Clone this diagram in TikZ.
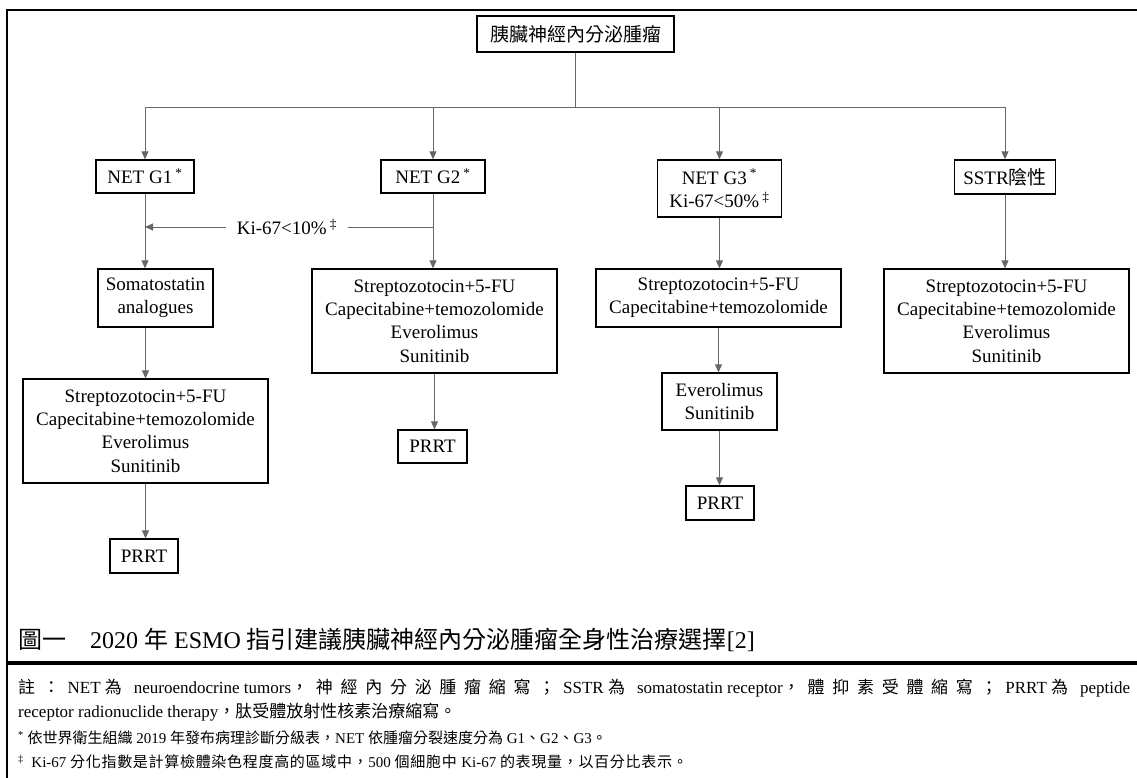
\documentclass[tikz,border=0pt]{standalone}
\usepackage{fontspec}
\setmainfont{Liberation Serif}
\newfontfamily\cjk{Noto Sans CJK TC}
\usetikzlibrary{arrows.meta}
\newcommand\zh[1]{{\cjk #1}}
\makeatletter
\newcommand\zhs[1]{{\cjk\@tfor\zhch:=#1\do{\zhch\hskip 0pt plus 1fil}}}
\newcommand\zhw[1]{{\cjk\@tfor\zhch:=#1\do{\zhch\kern 0.7pt}}}
\makeatother

\begin{document}
\begin{tikzpicture}[x=1pt, y=-1pt,
    box/.style={draw=black, line width=1.3pt, align=center, inner sep=0pt,
        font=\fontsize{19}{23.3}\selectfont},
    link/.style={draw=black!60, line width=0.9pt},
    arrow/.style={link, -{Triangle[length=8pt,width=7pt]}},
    note/.style={anchor=west, inner sep=0pt, font=\fontsize{15}{18}\selectfont}]
    \useasboundingbox (0,0) rectangle (1137,778);

    % Frame
    \draw[line width=2.8pt] (1137,10) -- (7,10) -- (7,778);
    \draw[line width=3.2pt] (7,663) -- (1137,663);

    % Root
    \node[box, minimum width=197, minimum height=36] (root) at (575.5,34) {\zh{胰臟神經內分泌腫瘤}};
    \coordinate (bus) at (575.5,107);

    % Row 2: grades
    \node[box, minimum width=98, minimum height=33] (g1) at (145,176.5) {NET G1\,\textsuperscript{*}};
    \node[box, minimum width=104, minimum height=33] (g2) at (433,176.5) {NET G2\,\textsuperscript{*}};
    \node[box, minimum width=124, minimum height=57] (g3) at (719.5,188.5) {NET G3\,\textsuperscript{*}\\Ki-67<50\%\,\textsuperscript{‡}};
    \node[box, minimum width=101, minimum height=34] (sstr) at (1005,177) {SSTR\zh{陰性}};

    % Row 3: first-line
    \node[box, minimum width=115, minimum height=58] (soma) at (155.5,298) {Somatostatin\\analogues};
    \node[box, minimum width=245, minimum height=104] (list2) at (434.5,321)
        {Streptozotocin+5-FU\\Capecitabine+temozolomide\\Everolimus\\Sunitinib};
    \node[box, minimum width=245, minimum height=58] (list3) at (718.5,298)
        {Streptozotocin+5-FU\\Capecitabine+temozolomide};
    \node[box, minimum width=245, minimum height=104] (list4) at (1006.5,321)
        {Streptozotocin+5-FU\\Capecitabine+temozolomide\\Everolimus\\Sunitinib};

    % Row 4 and below
    \node[box, minimum width=245, minimum height=104] (list1) at (145.5,431)
        {Streptozotocin+5-FU\\Capecitabine+temozolomide\\Everolimus\\Sunitinib};
    \node[box, minimum width=115, minimum height=57] (evsu) at (719.5,401.5) {Everolimus\\Sunitinib};
    \node[box, minimum width=68, minimum height=34] (prrt1) at (144,556) {PRRT};
    \node[box, minimum width=69, minimum height=33] (prrt2) at (432.5,446.5) {PRRT};
    \node[box, minimum width=68, minimum height=34] (prrt3) at (720,503) {PRRT};

    % Connectors
    \draw[link] (root.south) -- (bus);
    \draw[link] (g1.north |- bus) -- (sstr.north |- bus);
    \foreach \n in {g1,g2,g3,sstr}
        \draw[arrow] (\n.north |- bus) -- (\n.north);
    \draw[arrow] (g1.south) -- (g1.south |- soma.north);
    \draw[arrow] (g2.south) -- (g2.south |- list2.north);
    \draw[arrow] (g3.south) -- (g3.south |- list3.north);
    \draw[arrow] (sstr.south) -- (sstr.south |- list4.north);
    \draw[arrow] (list1.north |- soma.south) -- (list1.north);
    \draw[arrow] (list1.south) -- (list1.south |- prrt1.north);
    \draw[arrow] (list2.south) -- (list2.south |- prrt2.north);
    \draw[arrow] (list3.south) -- (list3.south |- evsu.north);
    \draw[arrow] (evsu.south) -- (evsu.south |- prrt3.north);

    % Ki-67 shortcut from G2 to G1
    \node[fill=white, inner sep=0pt, minimum width=122, minimum height=36,
        font=\fontsize{19}{23.3}\selectfont] (ki) at (287,227) {Ki-67<10\%\,\textsuperscript{‡}};
    \draw[link] (ki.east) -- (g2.south |- ki);
    \draw[arrow] (ki.west) -- (g1.south |- ki);

    % Caption and notes
    \node[anchor=west, inner sep=0pt, font=\fontsize{24}{28}\selectfont] (caption) at (18,640)
        {\zh{圖一}\quad 2020 \zh{年} ESMO \zh{指引建議胰臟神經內分泌腫瘤全身性治療選擇}[2]};
    \node[note, font=\fontsize{17}{19}\selectfont] (n1) at (18,688) {\makebox[1112pt][s]{\zhs{註：}NET \zhs{為} neuroendocrine tumors\zhs{，神經內分泌腫瘤縮寫；}SSTR \zhs{為} somatostatin receptor\zhs{，體抑素受體縮寫；}PRRT \zhs{為} peptide}};
    \node[note, font=\fontsize{17}{19}\selectfont] (n2) at (18,712) {receptor radionuclide therapy\zh{，肽受體放射性核素治療縮寫。}};
    \node[note] (n3) at (18,738) {\textsuperscript{*}\ \zh{依世界衛生組織} 2019 \zh{年發布病理診斷分級表，}NET \zh{依腫瘤分裂速度分為} G1\zh{、}G2\zh{、}G3\zh{。}};
    \node[note] (n4) at (18,762) {\textsuperscript{‡}\ \ Ki-67 \zhw{分化指數是計算檢體染色程度高的區域中，}500 \zhw{個細胞中} Ki-67 \zhw{的表現量，以百分比表示。}};
\end{tikzpicture}
\end{document}
